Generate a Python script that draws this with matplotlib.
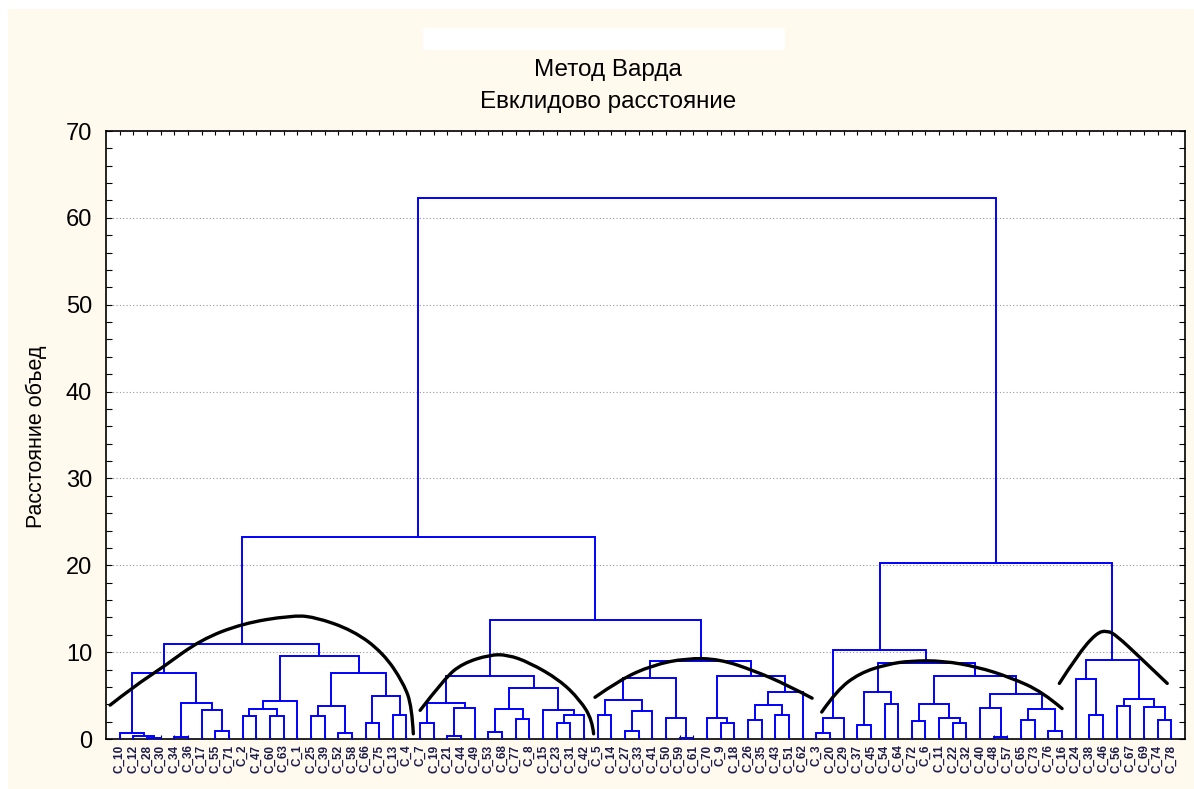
import numpy as np
import matplotlib.pyplot as plt
from matplotlib.path import Path
from matplotlib.patches import PathPatch, Rectangle

plt.rcParams['font.family'] = ['Liberation Sans', 'DejaVu Sans']

# case labels in the order the tree puts them along the axis
case_numbers = [10, 12, 28, 30, 34, 36, 17, 55, 71, 2, 47, 60, 63, 1, 25, 39, 52, 58, 66, 75,
                13, 4, 7, 19, 21, 44, 49, 53, 68, 77, 8, 15, 23, 31, 42, 5, 14, 27, 33, 41,
                50, 59, 61, 70, 9, 18, 26, 35, 43, 51, 62, 3, 20, 29, 37, 45, 54, 64, 72, 6,
                11, 22, 32, 40, 48, 57, 65, 73, 76, 16, 24, 38, 46, 56, 67, 69, 74, 78]
leaf_labels = ['C_' + str(n) for n in case_numbers]
n_leaves = len(leaf_labels)

# joins: (child a, child b, distance); ids < 78 are cases, 78 + row is a cluster
merges = [
    # first big group
    (2, 3, 0.15), (1, 78, 0.3), (0, 79, 0.7),
    (4, 5, 0.2), (7, 8, 0.95), (6, 82, 3.3), (81, 83, 4.2), (80, 84, 7.6),
    (9, 10, 2.7), (11, 12, 2.7), (86, 87, 3.5), (88, 13, 4.4),
    (14, 15, 2.7), (16, 17, 0.7), (90, 91, 3.8),
    (18, 19, 1.8), (20, 21, 2.75), (93, 94, 4.9), (92, 95, 7.6),
    (89, 96, 9.6), (85, 97, 10.9),
    # second group
    (22, 23, 1.8), (24, 25, 0.4), (100, 26, 3.55), (99, 101, 4.2),
    (27, 28, 0.85), (29, 30, 2.25), (103, 104, 3.4),
    (32, 33, 1.8), (106, 34, 2.75), (31, 107, 3.35), (105, 108, 5.9), (102, 109, 7.2),
    # third group
    (35, 36, 2.75), (37, 38, 0.9), (112, 39, 3.2), (111, 113, 4.45),
    (41, 42, 0.15), (40, 115, 2.45), (114, 116, 7.05),
    (44, 45, 1.8), (43, 118, 2.45), (46, 47, 2.2), (48, 49, 2.75), (120, 121, 3.95),
    (122, 50, 5.45), (119, 123, 7.25), (117, 124, 9.0), (110, 125, 13.7),
    # fourth group
    (51, 52, 0.65), (127, 53, 2.45),
    (54, 55, 1.6), (56, 57, 4.0), (129, 130, 5.4),
    (58, 59, 2.05), (61, 62, 1.8), (60, 133, 2.45), (132, 134, 4.0),
    (64, 65, 0.22), (63, 136, 3.55), (66, 67, 2.15), (68, 69, 0.9), (138, 139, 3.5),
    (137, 140, 5.15), (135, 141, 7.25), (131, 142, 8.7), (128, 143, 10.2),
    # fifth group
    (71, 72, 2.75), (70, 145, 6.95), (73, 74, 3.75), (76, 77, 2.2), (75, 148, 3.7),
    (147, 149, 4.55), (146, 150, 9.05), (144, 151, 20.3),
    # top
    (98, 126, 23.3), (153, 152, 62.3),
]

# hand drawn arcs over the groups (x in case positions, y in distance)
arc_1 = [(0.3, 3.9), (2.0, 6.0), (4.2, 8.3), (6.9, 11.4), (10.0, 13.3), (13.5, 14.2),
         (15.2, 14.1), (18.1, 12.5), (20.3, 9.9), (21.8, 6.4), (22.4, 3.7), (22.5, 0.6)]
arc_2 = [(23.0, 3.3), (24.8, 7.0), (26.1, 8.7), (28.1, 9.7), (29.4, 9.7), (31.0, 8.8),
         (33.2, 6.8), (34.7, 4.5), (35.6, 2.2), (35.7, 0.6)]
arc_3 = [(35.8, 4.8), (37.6, 6.8), (40.0, 8.5), (42.5, 9.3), (44.9, 9.2), (47.4, 7.9),
         (49.9, 6.2), (51.7, 4.7)]
arc_4 = [(52.4, 3.1), (53.5, 5.6), (55.2, 7.6), (57.2, 8.6), (58.9, 9.0), (61.3, 9.0),
         (63.8, 8.3), (66.2, 7.1), (68.6, 5.4), (70.0, 3.5)]
arc_5 = [(69.8, 6.4), (71.1, 9.6), (72.5, 12.2), (73.3, 12.5), (74.0, 11.9), (75.7, 9.4),
         (77.7, 6.4)]
arcs = [arc_1, arc_2, arc_3, arc_4, arc_5]

title_1 = 'Метод Варда'
title_2 = 'Евклидово расстояние'
y_label = 'Расстояние объед'

cream = '#FFF9EE'
fig = plt.figure(figsize=(11.94, 7.89), dpi=100, facecolor='white')
fig.patches.append(Rectangle((8 / 1194, 0), 1, 1 - 9 / 789, transform=fig.transFigure,
                             facecolor=cream, edgecolor='none', zorder=-10))
# blanked out line above the title
fig.patches.append(Rectangle((423 / 1194, 1 - 50 / 789), 362 / 1194, 22 / 789,
                             transform=fig.transFigure, facecolor='white',
                             edgecolor='none', zorder=-5))

ax = fig.add_axes([106 / 1194, 1 - 739 / 789, 1079 / 1194, 608 / 789])
ax.set_facecolor('white')

# positions of cases and clusters
node_x = {i: i + 1.0 for i in range(n_leaves)}
node_y = {i: 0.0 for i in range(n_leaves)}
for k, (a, b, h) in enumerate(merges):
    nid = n_leaves + k
    ax.plot([node_x[a], node_x[a], node_x[b], node_x[b]],
            [node_y[a], h, h, node_y[b]], color='#0000FF', lw=1.4,
            solid_joinstyle='miter', zorder=3)
    node_x[nid] = (node_x[a] + node_x[b]) / 2
    node_y[nid] = h

for pts in arcs:
    verts = [pts[0]]
    codes = [Path.MOVETO]
    for i in range(1, len(pts) - 1):
        if i < len(pts) - 2:
            end = ((pts[i][0] + pts[i + 1][0]) / 2, (pts[i][1] + pts[i + 1][1]) / 2)
        else:
            end = pts[i + 1]
        verts += [pts[i], end]
        codes += [Path.CURVE3, Path.CURVE3]
    ax.add_patch(PathPatch(Path(verts, codes), facecolor='none', edgecolor='black',
                           lw=2.4, capstyle='round', zorder=5))

ax.set_xlim(0, n_leaves + 1)
ax.set_ylim(0, 70)
ax.set_yticks(np.arange(0, 71, 10))
ax.set_yticks(np.arange(0, 71, 2), minor=True)
ax.set_xticks(np.arange(1, n_leaves + 1))
ax.set_xticklabels(leaf_labels, rotation=90, fontsize=8.5, color='#1c1c4c',
                   fontweight='bold')
ax.tick_params(axis='y', which='both', direction='in', left=True, right=True,
               length=4, width=0.8, labelsize=17, pad=10)
ax.tick_params(axis='x', which='both', direction='in', top=True, bottom=True,
               length=3, width=0.8, pad=4)
ax.yaxis.grid(True, which='major', linestyle=(0, (1, 2)), color='#999999', lw=0.8)
ax.set_axisbelow(True)
for s in ax.spines.values():
    s.set_color('black')
    s.set_linewidth(1.2)

fig.text(608 / 1194, 1 - 70 / 789, title_1, ha='center', va='center', fontsize=17.5)
fig.text(608 / 1194, 1 - 102 / 789, title_2, ha='center', va='center', fontsize=17.5)
fig.text(36 / 1194, 1 - 437 / 789, y_label, ha='center', va='center', rotation=90,
         fontsize=15.5)

fig.savefig('out.png', dpi=100, facecolor=fig.get_facecolor())
